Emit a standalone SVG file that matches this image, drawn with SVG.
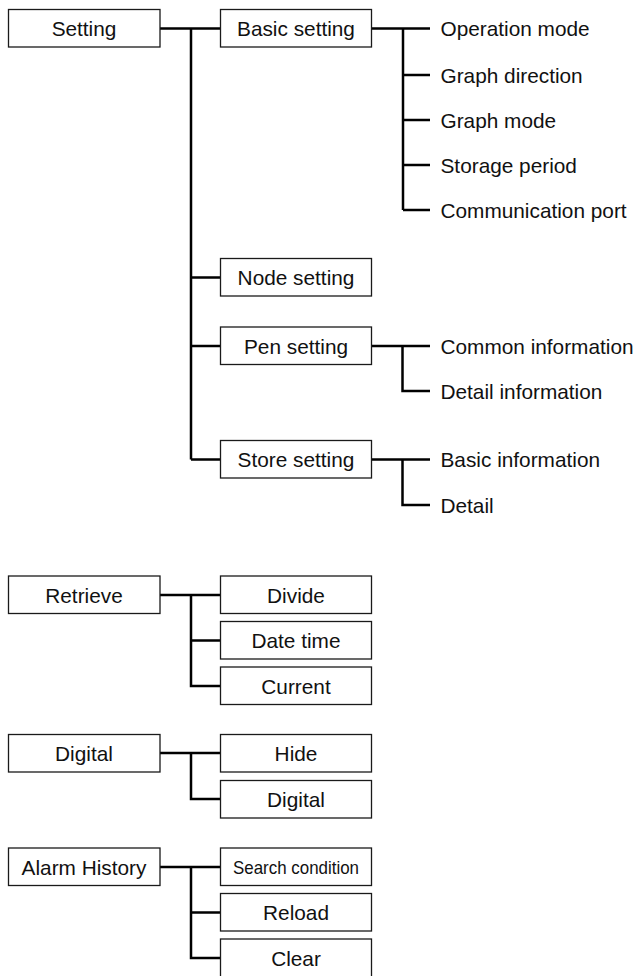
<svg xmlns="http://www.w3.org/2000/svg" width="638" height="976" viewBox="0 0 638 976">
<style>
.box{fill:#fff;stroke:#1a1a1a;stroke-width:1.3}
.t{font-family:"Liberation Sans",Arial,sans-serif;font-size:20.8px;fill:#111}
.c{text-anchor:middle}
.ln{fill:none;stroke:#000;stroke-width:2.5}
</style>
<rect width="638" height="976" fill="#fff"/>
<g id="connectors">
<path class="ln" d="M160,28.5H220M191,28.5V459.5M191,277.5H220M191,346H220M191,459.5H220"/>
<path class="ln" d="M372,28.5H430M403,28.5V210M403,75H430M403,120H430M403,165H430M403,210H430"/>
<path class="ln" d="M372,346H430M402.5,346V391H430"/>
<path class="ln" d="M372,459.5H430M402.5,459.5V505H430"/>
<path class="ln" d="M160,595H220M191,595V686H220M191,640.5H220"/>
<path class="ln" d="M160,753H220M191,753V799H220"/>
<path class="ln" d="M160,867H220M191,867V958H220M191,912.5H220"/>
</g>
<g id="setting"><rect class="box" x="8.5" y="9.5" width="151.5" height="37.5"/><text class="t c" x="84" y="36">Setting</text></g>
<g id="basic-setting"><rect class="box" x="220.5" y="9.5" width="151" height="37.5"/><text class="t c" x="296" y="36">Basic setting</text></g>
<g id="operation-mode"><text class="t" x="440.5" y="36">Operation mode</text></g>
<g id="graph-direction"><text class="t" x="440.5" y="82.5">Graph direction</text></g>
<g id="graph-mode"><text class="t" x="440.5" y="127.5">Graph mode</text></g>
<g id="storage-period"><text class="t" x="440.5" y="172.5">Storage period</text></g>
<g id="communication-port"><text class="t" x="440.5" y="217.5">Communication port</text></g>
<g id="node-setting"><rect class="box" x="220.5" y="258.5" width="151" height="37.5"/><text class="t c" x="296" y="285">Node setting</text></g>
<g id="pen-setting"><rect class="box" x="220.5" y="327" width="151" height="37.5"/><text class="t c" x="296" y="353.5">Pen setting</text></g>
<g id="common-information"><text class="t" x="440.5" y="353.5">Common information</text></g>
<g id="detail-information"><text class="t" x="440.5" y="398.5">Detail information</text></g>
<g id="store-setting"><rect class="box" x="220.5" y="440.5" width="151" height="37.5"/><text class="t c" x="296" y="467">Store setting</text></g>
<g id="basic-information"><text class="t" x="440.5" y="467">Basic information</text></g>
<g id="detail"><text class="t" x="440.5" y="512.5">Detail</text></g>
<g id="retrieve"><rect class="box" x="8.5" y="576" width="151.5" height="37.5"/><text class="t c" x="84" y="602.5">Retrieve</text></g>
<g id="divide"><rect class="box" x="220.5" y="576" width="151" height="37.5"/><text class="t c" x="296" y="602.5">Divide</text></g>
<g id="date-time"><rect class="box" x="220.5" y="621.5" width="151" height="37.5"/><text class="t c" x="296" y="648">Date time</text></g>
<g id="current"><rect class="box" x="220.5" y="667" width="151" height="37.5"/><text class="t c" x="296" y="693.5">Current</text></g>
<g id="digital"><rect class="box" x="8.5" y="734.5" width="151.5" height="37.5"/><text class="t c" x="84" y="761">Digital</text></g>
<g id="hide"><rect class="box" x="220.5" y="734.5" width="151" height="37.5"/><text class="t c" x="296" y="761">Hide</text></g>
<g id="digital-2"><rect class="box" x="220.5" y="780.5" width="151" height="37.5"/><text class="t c" x="296" y="807">Digital</text></g>
<g id="alarm-history"><rect class="box" x="8.5" y="848" width="151.5" height="37.5"/><text class="t c" x="84" y="874.5">Alarm History</text></g>
<g id="search-condition"><rect class="box" x="220.5" y="848" width="151" height="37.5"/><text class="t c" x="296" y="874" style="font-size:18.5px" textLength="126" lengthAdjust="spacingAndGlyphs">Search condition</text></g>
<g id="reload"><rect class="box" x="220.5" y="893.5" width="151" height="37.5"/><text class="t c" x="296" y="920">Reload</text></g>
<g id="clear"><rect class="box" x="220.5" y="939" width="151" height="40"/><text class="t c" x="296" y="965.5">Clear</text></g>
</svg>
